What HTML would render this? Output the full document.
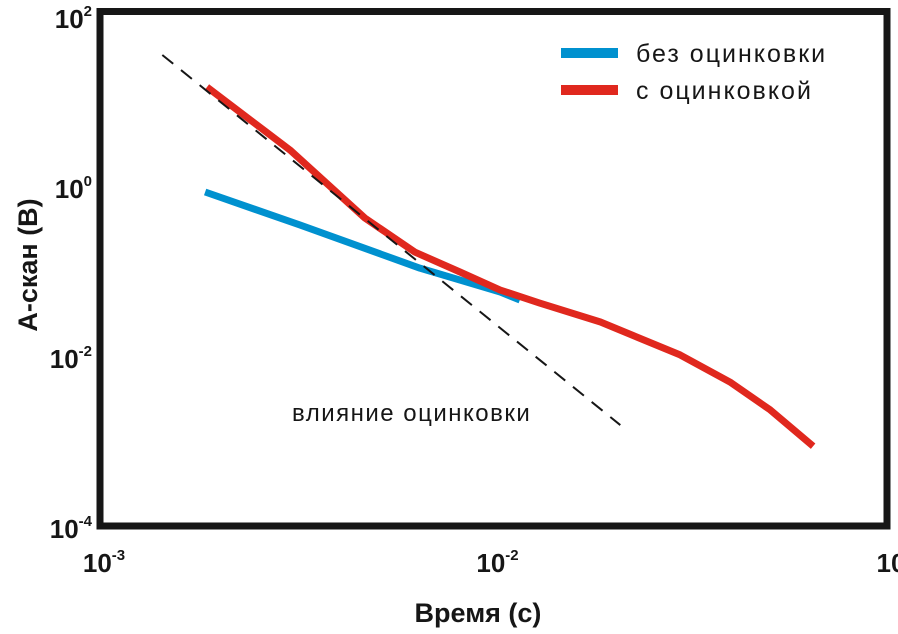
<!DOCTYPE html>
<html><head><meta charset="utf-8"><style>
html,body{margin:0;padding:0;background:#fff;}
svg{display:block;font-family:"Liberation Sans",Arial,sans-serif;}
</style></head><body>
<svg id="chart" width="898" height="634" viewBox="0 0 898 634" xmlns="http://www.w3.org/2000/svg">
<g id="plot"></g>
<rect x="100" y="11.5" width="787" height="514.5" fill="none" stroke="#161616" stroke-width="7"/>
<g id="yticks" font-weight="bold" font-size="26" fill="#161616" text-anchor="end"></g>
<g id="xticks" font-weight="bold" font-size="26" fill="#161616" text-anchor="middle"></g>
<text x="478" y="622" font-weight="bold" font-size="27" text-anchor="middle" fill="#161616">Время (с)</text>
<text transform="translate(37,265) rotate(-90)" font-weight="bold" font-size="27" text-anchor="middle" fill="#161616">А-скан (В)</text>
<g>
<line x1="561" y1="53" x2="618" y2="53" stroke="#0091cf" stroke-width="10"/>
<text x="636" y="62" font-size="25" letter-spacing="2" fill="#161616">без оцинковки</text>
<line x1="561" y1="90" x2="618" y2="90" stroke="#e0281e" stroke-width="10"/>
<text x="636" y="99" font-size="25" letter-spacing="2" fill="#161616">с оцинковкой</text>
</g>
<text x="292" y="421" font-size="24" letter-spacing="1.5" fill="#161616">влияние оцинковки</text>
</svg>
<script>
const blueX=[0.00185,0.00322,0.0065,0.0104,0.01167];
const blueY=[0.85,0.348,0.108,0.0566,0.0456];
const redX=[0.00187,0.00304,0.00471,0.00631,0.00822,0.0104,0.0131,0.0187,0.0298,0.0399,0.0505,0.0649];
const redY=[14.6,2.65,0.42,0.167,0.0973,0.0597,0.042,0.0251,0.0103,0.00494,0.00232,0.00087];
const dashX=[0.00144,0.0210];
const dashY=[34.8,0.00154];
const yTickVals=[2,0,-2,-4];
const xTickLabels=[["10","-3"],["10","-2"],["10",""]];
const xTickExp=[-3,-2,-1];
function sx(v){return 100+(Math.log10(v)+3)*393.5;}
function sy(v){return 16+(2-Math.log10(v))*85;}
const NS="http://www.w3.org/2000/svg";
const plot=document.getElementById('plot');
function poly(xs,ys,color,w,dash,name){
  const p=document.createElementNS(NS,'polyline');
  p.setAttribute('points',xs.map((x,i)=>sx(x)+','+sy(ys[i])).join(' '));
  p.setAttribute('fill','none');p.setAttribute('stroke',color);p.setAttribute('stroke-width',w);
  p.setAttribute('stroke-linejoin','round');
  if(dash)p.setAttribute('stroke-dasharray',dash);
  
  
  plot.appendChild(p);
}
poly(blueX,blueY,'#0091cf',7,null,'series-without-zinc');
poly(redX,redY,'#e0281e',7,null,'series-with-zinc');
poly(dashX,dashY,'#161616',2,'14 10','asymptote-dashed');
const yt=document.getElementById('yticks');
yTickVals.forEach(e=>{
  const t=document.createElementNS(NS,'text');
  t.setAttribute('x',92);t.setAttribute('y',sy(Math.pow(10,e))+12);
  t.innerHTML='10<tspan font-size="15" dy="-12">'+e+'</tspan>';
  
  
  yt.appendChild(t);
});
const xt=document.getElementById('xticks');
xTickExp.forEach((e,i)=>{
  const t=document.createElementNS(NS,'text');
  t.setAttribute('x',sx(Math.pow(10,e))+4);t.setAttribute('y',572);
  t.innerHTML=xTickLabels[i][0]+(xTickLabels[i][1]?'<tspan font-size="15" dy="-12">'+xTickLabels[i][1]+'</tspan>':'');
  
  
  xt.appendChild(t);
});
</script>
</body></html>
